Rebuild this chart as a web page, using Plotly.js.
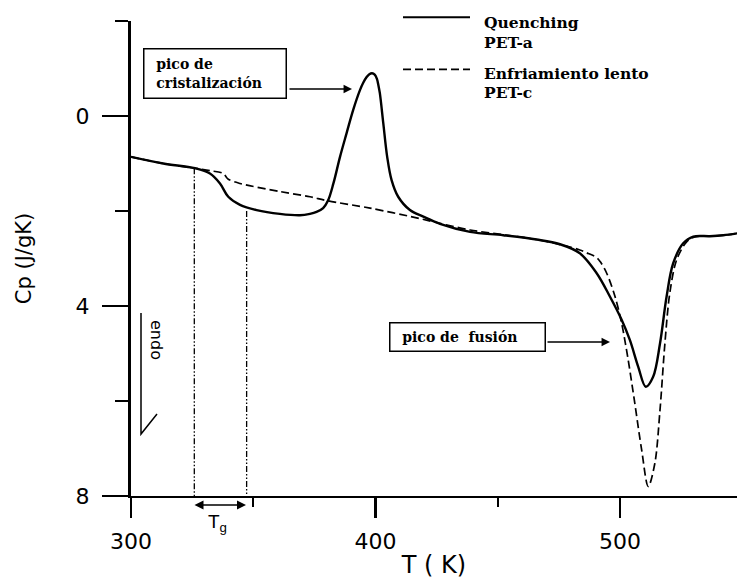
<!DOCTYPE html>
<html>
<head>
<meta charset="utf-8">
<script src="https://cdn.plot.ly/plotly-3.0.1.min.js"></script>
<style>html,body{margin:0;padding:0;background:#fff;}#chart{width:737px;height:579px;}</style>
</head>
<body>
<div id="chart"></div>
<script>
// Quenching PET-a (solid)
var quenchT = [300, 313.2, 326.2, 332.3, 336.4, 339.8, 344.6, 351.4, 360.9, 369.1, 373.2, 375.9, 378.6, 380.6, 382.8, 385.5, 388.2, 390.9, 393.7, 395.0, 396.4, 397.5, 398.6, 399.7, 400.6, 401.2, 401.8, 403.2, 404.8, 406.6, 409.3, 414.1, 419.6, 426.4, 438.7, 452.3, 465.9, 475.5, 483.6, 490.5, 495.9, 500.7, 504.1, 507.5, 510.6, 513.6, 516.4, 519.1, 521.8, 525.9, 530, 536.8, 542.3, 548];
var quenchCp = [0.86, 1.0, 1.10, 1.21, 1.42, 1.70, 1.87, 1.98, 2.06, 2.09, 2.06, 2.02, 1.94, 1.78, 1.42, 0.86, 0.36, -0.13, -0.55, -0.70, -0.82, -0.88, -0.90, -0.87, -0.78, -0.65, -0.48, 0.15, 0.86, 1.35, 1.70, 1.98, 2.12, 2.27, 2.44, 2.51, 2.60, 2.70, 2.89, 3.31, 3.80, 4.29, 4.72, 5.28, 5.70, 5.49, 4.79, 3.80, 3.10, 2.68, 2.54, 2.53, 2.51, 2.47];
// Enfriamiento lento PET-c (dashed)
var slowT = [300, 313.2, 326.2, 332.3, 337.7, 339.8, 344.6, 360.9, 373.2, 380, 397.8, 418.2, 426.4, 438.7, 452.3, 465.9, 478.2, 483.6, 486.4, 490.5, 492, 494.6, 498, 500.7, 503.4, 506.1, 508.9, 511.6, 514.3, 516.4, 518.4, 520.4, 523.2, 527.3, 531, 536.8, 542.3, 548];
var slowCp = [0.86, 1.0, 1.10, 1.15, 1.21, 1.33, 1.42, 1.59, 1.70, 1.78, 1.94, 2.16, 2.26, 2.40, 2.50, 2.60, 2.74, 2.82, 2.88, 2.98, 3.07, 3.31, 3.80, 4.36, 5.14, 6.05, 7.03, 7.80, 7.31, 6.19, 4.79, 3.73, 3.03, 2.65, 2.54, 2.53, 2.51, 2.47];
// Glass transition markers
var tgOnset = 325.9, tgEnd = 347.3;
var tgOnsetCp = 1.10, tgEndCp = 2.0;
var xTicks = [300, 400, 500];
var yTicks = [0, 4, 8];

// pixel -> paper helpers (for decorations only)
var L = 131, W = 606, B = 496, H = 475;
function xp(px){ return (px - L) / W; }
function yp(py){ return (B - py) / H; }

var serif = 'DejaVu Serif', sans = 'DejaVu Sans';
var nb = '\u00A0\u00A0';
var tiny = {family: sans, size: 1, color: '#fff'};

var traces = [
  {x: quenchT, y: quenchCp, type: 'scatter', mode: 'lines', name: 'Quenching PET-a',
   line: {color: '#000', width: 2.4, shape: 'spline', smoothing: 1}},
  {x: slowT, y: slowCp, type: 'scatter', mode: 'lines', name: 'Enfriamiento lento PET-c',
   line: {color: '#000', width: 1.7, dash: '8px,4px', shape: 'spline', smoothing: 0.9}},
  {x: [tgOnset, tgOnset], y: [tgOnsetCp, 8], type: 'scatter', mode: 'lines', showlegend: false,
   line: {color: '#000', width: 1.3, dash: '6px,2px,1.5px,2px,1.5px,2px'}},
  {x: [tgEnd, tgEnd], y: [tgEndCp, 8], type: 'scatter', mode: 'lines', showlegend: false,
   line: {color: '#000', width: 1.3, dash: '6px,2px,1.5px,2px,1.5px,2px'}}
];

var annotations = [
  // crystallization box
  {xref: 'paper', yref: 'paper', x: xp(215), y: yp(73.5), xanchor: 'center', yanchor: 'middle',
   text: nb + 'pico de<br>' + nb + 'cristalización', align: 'left', showarrow: false,
   width: 137, height: 44, borderpad: 2, borderwidth: 1.5, bordercolor: '#000', bgcolor: '#fff',
   font: {family: serif, size: 14, color: '#000', weight: 'bold'}},
  {xref: 'paper', yref: 'paper', x: xp(352), y: yp(89), axref: 'pixel', ayref: 'pixel', ax: -64, ay: 0,
   text: '\u00A0', font: tiny, showarrow: true, arrowhead: 2, arrowsize: 1.3, arrowwidth: 1.3, arrowcolor: '#000', standoff: 0},
  // fusion box
  {xref: 'paper', yref: 'paper', x: xp(467.5), y: yp(337), xanchor: 'center', yanchor: 'middle',
   text: nb + 'pico de\u00A0\u00A0fusión', align: 'left', showarrow: false,
   width: 150, height: 23, borderpad: 2, borderwidth: 1.5, bordercolor: '#000', bgcolor: '#fff',
   font: {family: serif, size: 14, color: '#000', weight: 'bold'}},
  {xref: 'paper', yref: 'paper', x: xp(610), y: yp(342), axref: 'pixel', ayref: 'pixel', ax: -64, ay: 0,
   text: '\u00A0', font: tiny, showarrow: true, arrowhead: 2, arrowsize: 1.3, arrowwidth: 1.3, arrowcolor: '#000', standoff: 0},
  // legend texts
  {xref: 'paper', yref: 'paper', x: xp(482), y: yp(23), xanchor: 'left', yanchor: 'middle', showarrow: false,
   text: 'Quenching', font: {family: serif, size: 15.5, color: '#000', weight: 'bold'}},
  {xref: 'paper', yref: 'paper', x: xp(482), y: yp(42), xanchor: 'left', yanchor: 'middle', showarrow: false,
   text: 'PET-a', font: {family: serif, size: 15.5, color: '#000', weight: 'bold'}},
  {xref: 'paper', yref: 'paper', x: xp(482), y: yp(74), xanchor: 'left', yanchor: 'middle', showarrow: false,
   text: 'Enfriamiento lento', font: {family: serif, size: 15.5, color: '#000', weight: 'bold'}},
  {xref: 'paper', yref: 'paper', x: xp(482), y: yp(93), xanchor: 'left', yanchor: 'middle', showarrow: false,
   text: 'PET-c', font: {family: serif, size: 15.5, color: '#000', weight: 'bold'}},
  // endo
  {xref: 'paper', yref: 'paper', x: xp(157), y: yp(340), xanchor: 'center', yanchor: 'middle', showarrow: false,
   text: 'endo', textangle: 90, font: {family: sans, size: 16, color: '#000'}},
  // Tg double arrow and label
  {xref: 'paper', yref: 'paper', x: xp(246), y: yp(505), axref: 'pixel', ayref: 'pixel', ax: -53, ay: 0,
   text: '\u00A0', font: tiny, showarrow: true, arrowside: 'end+start', arrowhead: 2, arrowsize: 1.2, arrowwidth: 1.5,
   arrowcolor: '#000', standoff: 0, startstandoff: 0, startarrowhead: 2, startarrowsize: 1.2},
  {xref: 'paper', yref: 'paper', x: xp(217), y: yp(523), xanchor: 'center', yanchor: 'middle', showarrow: false,
   text: 'T<sub>g</sub>', font: {family: 'Liberation Sans', size: 19, color: '#000'}}
];

var shapes = [
  {type: 'line', xref: 'paper', yref: 'paper', x0: xp(403), x1: xp(470), y0: yp(17.3), y1: yp(17.3),
   line: {color: '#000', width: 2}},
  {type: 'line', xref: 'paper', yref: 'paper', x0: xp(403), x1: xp(470), y0: yp(69.3), y1: yp(69.3),
   line: {color: '#000', width: 1.7, dash: '8px,4px'}},
  {type: 'path', xref: 'paper', yref: 'paper',
   path: 'M' + xp(141) + ',' + yp(313) + ' L' + xp(141) + ',' + yp(434) + ' L' + xp(157) + ',' + yp(414),
   line: {color: '#000', width: 1.5}}
];

var layout = {
  width: 737, height: 579,
  margin: {l: 131, r: 0, t: 21, b: 83, pad: 0},
  paper_bgcolor: '#fff', plot_bgcolor: '#fff',
  showlegend: false,
  font: {family: sans, color: '#000'},
  xaxis: {
    range: [300, 547.9], tickvals: xTicks, ticktext: xTicks.map(String),
    ticks: 'outside', ticklen: 20, tickwidth: 2.5, tickcolor: '#000',
    minor: {tickvals: [350, 450], ticks: 'outside', ticklen: 9, tickwidth: 2, tickcolor: '#000'},
    showline: true, linewidth: 2, linecolor: '#000', showgrid: false, zeroline: false,
    tickfont: {family: sans, size: 22, color: '#000'}, ticklabelstandoff: 5,
    title: {text: 'T ( K)', font: {family: sans, size: 24, color: '#000'}}
  },
  yaxis: {
    range: [8, -2], tickvals: yTicks, ticktext: yTicks.map(String),
    ticks: 'outside', ticklen: 26, tickwidth: 2.5, tickcolor: '#000',
    minor: {tickvals: [-2, 2, 6], ticks: 'outside', ticklen: 13, tickwidth: 2, tickcolor: '#000'},
    showline: true, linewidth: 3, linecolor: '#000', showgrid: false, zeroline: false,
    tickfont: {family: sans, size: 22, color: '#000'}, ticklabelstandoff: 8,
    automargin: true,
    title: {text: 'Cp (J/gK)', font: {family: sans, size: 21, color: '#000'}, standoff: 39}
  },
  annotations: annotations,
  shapes: shapes
};

Plotly.newPlot('chart', traces, layout, {staticPlot: true, displayModeBar: false});
</script>
</body>
</html>
